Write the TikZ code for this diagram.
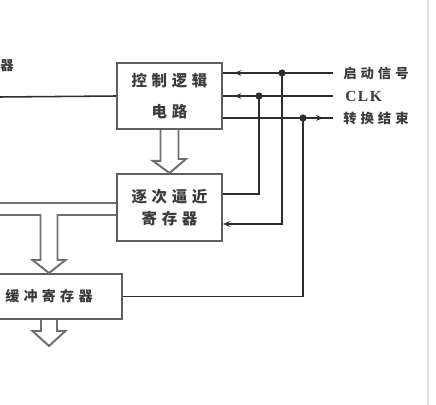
\documentclass[tikz,border=0pt]{standalone}
\usepackage{fontspec}
\setmainfont{Liberation Serif}
\newfontfamily\cjk[LetterSpace=30]{Noto Sans CJK SC}
\newfontfamily\lat[LetterSpace=10]{Liberation Serif}
\usetikzlibrary{arrows.meta,calc,positioning}
\definecolor{wire}{RGB}{45,45,45}
\definecolor{frame}{RGB}{95,95,95}
\definecolor{busline}{RGB}{110,110,110}
\definecolor{txt}{RGB}{60,60,60}

\tikzset{
  blk/.style={draw=frame,line width=1.4pt,fill=white,text=txt,align=center,
    font=\cjk\bfseries\fontsize{11}{15.6}\selectfont},
  sig/.style={wire,line width=1.1pt},
  bus/.style={busline,line width=1.4pt},
  dot/.style={circle,fill=wire,inner sep=0pt,minimum size=1.8mm},
  lbl/.style={text=txt,anchor=west,inner sep=0pt,font=\cjk\bfseries\fontsize{9.5}{10}\selectfont}
}

\begin{document}
\begin{tikzpicture}[x=0.25mm,y=-0.25mm,>={Stealth[length=5pt,width=4pt]}]
  \useasboundingbox (0,0) rectangle (436,405);
  % blocks
  \node[blk,minimum width=26.25mm,minimum height=16.5mm] (ctrl) at (169.5,96) {控制逻辑\\[7pt]电路};
  \node[blk,minimum width=26.25mm,minimum height=16.75mm] (sar) at (169.5,207.5) {逐次逼近\\寄存器};
  \node[blk,minimum width=36.5mm,minimum height=11.25mm,font=\cjk\bfseries\fontsize{10}{11}\selectfont] (buf) at (49,296.5) {缓冲寄存器};
  \node[lbl] (cut) at (0,66) {器};

  % signal ends and branch points
  \coordinate (s1) at (333,73);
  \coordinate (s2) at (333,96);
  \coordinate (s3) at (333,118);
  \coordinate (j1) at (282,73);
  \coordinate (j2) at (259,96);
  \coordinate (j3) at (303,118);
  \coordinate (in) at (0,97);
  \coordinate (b1) at (0,203);
  \coordinate (b2) at (0,215);

  \node[lbl] (start) at ($(s1)+(10,0)$) {启动信号};
  \node[lbl,font=\lat\bfseries\fontsize{11}{12}\selectfont] (clk) at ($(s2)+(12,0)$) {CLK};
  \node[lbl] (eoc) at ($(s3)+(10,0)$) {转换结束};

  % control lines
  \draw[sig] (in) -- (ctrl.west);
  \draw[sig] (s1) -- (ctrl.east|-s1);
  \draw[sig,->,shorten >=8pt] (j1) -- (ctrl.east|-s1);
  \draw[sig] (s2) -- (ctrl.east|-s2);
  \draw[sig,->,shorten >=8pt] (j2) -- (ctrl.east|-s2);
  \draw[sig] (ctrl.east|-s3) -- (s3);
  \draw[sig,->,shorten >=7pt] (j3) -- (s3);
  \draw[sig,->] (j1) |- ($(sar.east)+(0,16.5)$);
  \draw[sig] (j2) |- ($(sar.east)+(0,-13.5)$);
  \draw[sig] (j3) |- (buf.east);
  \foreach \j in {j1,j2,j3}
    \node[dot] at (\j) {};

  % data paths
  \draw[bus] ($(ctrl.south)+(-9,0)$) -- ++(0,31) -- ++(-7.5,0) -- (sar.north)
    -- ++(16.5,-14) -- ++(-7.5,0) -- ++(0,-31);
  \draw[bus] (sar.west|-b1) -- (b1);
  \draw[bus] (b2) -- ($(buf.north|-b2)+(-8.5,0)$) -- ($(buf.north)+(-8.5,-13)$) -- ++(-8,0)
    -- (buf.north) -- ++(16.5,-13) -- ++(-8,0) -- ($(buf.north|-b2)+(8.5,0)$) -- (sar.west|-b2);
  \draw[bus] ($(buf.south)+(-8,0)$) -- ++(0,11) -- ++(-8.5,0) -- ++(16.5,15)
    -- ++(16.5,-15) -- ++(-8.5,0) -- ++(0,-11);

  \draw[black!12,line width=0.8pt] (428,0) -- (428,405);
\end{tikzpicture}
\end{document}
